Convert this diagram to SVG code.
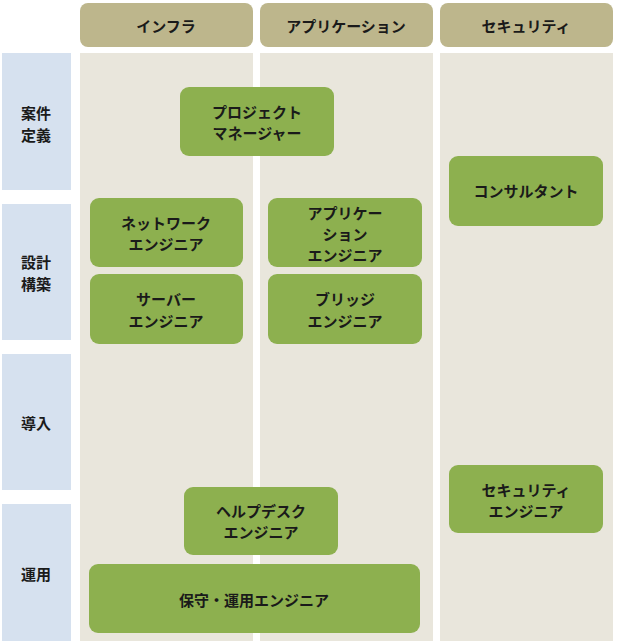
<svg xmlns="http://www.w3.org/2000/svg" width="618" height="643" viewBox="0 0 618 643">
<style>
text{font-family:"Noto Sans CJK JP","Noto Sans",sans-serif;font-weight:bold;font-size:15px;fill:#1a1a1a;text-anchor:middle;dominant-baseline:central}
.h{fill:#bdb68c}.c{fill:#e9e6dc}.r{fill:#d6e1ef}.n{fill:#8db04f}
</style>
<rect width="618" height="643" fill="#fff"/>
<g id="headers">
<rect class="h" x="80" y="3" width="173" height="44" rx="8"/><text x="166" y="25">インフラ</text>
<rect class="h" x="260" y="3" width="173" height="44" rx="8"/><text x="346" y="25">アプリケーション</text>
<rect class="h" x="440" y="3" width="173" height="44" rx="8"/><text x="526" y="25">セキュリティ</text>
</g>
<g id="columns">
<rect class="c" x="80" y="53" width="173" height="588"/>
<rect class="c" x="260" y="53" width="173" height="588"/>
<rect class="c" x="440" y="53" width="173" height="588"/>
</g>
<g id="rows">
<rect class="r" x="2" y="53" width="69" height="137"/><text x="36" y="112">案件</text><text x="36" y="134">定義</text>
<rect class="r" x="2" y="204" width="69" height="136"/><text x="36" y="261">設計</text><text x="36" y="283">構築</text>
<rect class="r" x="2" y="354" width="69" height="136"/><text x="36" y="422">導入</text>
<rect class="r" x="2" y="504" width="69" height="137"/><text x="36" y="573">運用</text>
</g>
<g id="pm"><rect class="n" x="180" y="87" width="154" height="69" rx="9"/><text x="257" y="111">プロジェクト</text><text x="257" y="132">マネージャー</text></g>
<g id="network"><rect class="n" x="90" y="198" width="153" height="69" rx="9"/><text x="166" y="222">ネットワーク</text><text x="166" y="243">エンジニア</text></g>
<g id="server"><rect class="n" x="90" y="274" width="153" height="70" rx="9"/><text x="166" y="298">サーバー</text><text x="166" y="320">エンジニア</text></g>
<g id="app"><rect class="n" x="268" y="198" width="154" height="69" rx="9"/><text x="345" y="212">アプリケー</text><text x="345" y="233">ション</text><text x="345" y="254">エンジニア</text></g>
<g id="bridge"><rect class="n" x="268" y="274" width="154" height="70" rx="9"/><text x="345" y="298">ブリッジ</text><text x="345" y="320">エンジニア</text></g>
<g id="consultant"><rect class="n" x="449" y="156" width="154" height="70" rx="9"/><text x="526" y="190">コンサルタント</text></g>
<g id="helpdesk"><rect class="n" x="184" y="487" width="154" height="68" rx="9"/><text x="261" y="510">ヘルプデスク</text><text x="261" y="531">エンジニア</text></g>
<g id="security"><rect class="n" x="449" y="465" width="154" height="68" rx="9"/><text x="526" y="489">セキュリティ</text><text x="526" y="510">エンジニア</text></g>
<g id="maintenance"><rect class="n" x="89" y="564" width="331" height="69" rx="9"/><text x="254" y="599">保守・運用エンジニア</text></g>
<g id="connectors"/>
</svg>
